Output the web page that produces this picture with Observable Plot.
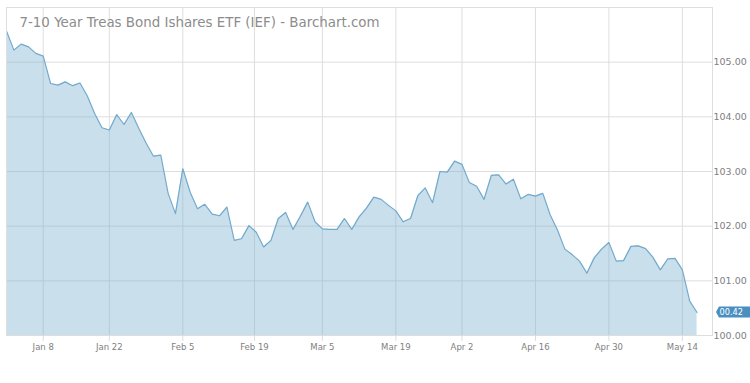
<!DOCTYPE html>
<html><head><meta charset="utf-8">
<script src="https://cdn.jsdelivr.net/npm/d3@7"></script>
<script src="https://cdn.jsdelivr.net/npm/@observablehq/plot@0.6"></script>
<style>html,body{margin:0;padding:0;background:#fff;} #chart svg{display:block;}</style>
</head><body><div id="chart"></div>
<script>
const chartTitle = "7-10 Year Treas Bond Ishares ETF (IEF) - Barchart.com";
const firstDay = "2017-12-29";
const holidays = ["2018-01-01", "2018-01-15", "2018-02-19", "2018-03-30"];
const closes = [
  105.57, 105.22, 105.33, 105.28, 105.16, 105.11, 104.61, 104.58, 104.64, 104.57,
  104.62, 104.38, 104.06, 103.80, 103.76, 104.04, 103.86, 104.08, 103.79, 103.52,
  103.28, 103.30, 102.60, 102.23, 103.05, 102.62, 102.32, 102.40, 102.22, 102.19,
  102.35, 101.74, 101.77, 102.01, 101.89, 101.62, 101.74, 102.14, 102.25, 101.94,
  102.18, 102.44, 102.08, 101.95, 101.94, 101.94, 102.14, 101.94, 102.17, 102.33,
  102.53, 102.49, 102.38, 102.28, 102.08, 102.14, 102.56, 102.70, 102.43, 103.00,
  102.99, 103.19, 103.13, 102.80, 102.73, 102.49, 102.93, 102.94, 102.77, 102.86,
  102.50, 102.58, 102.55, 102.60, 102.21, 101.93, 101.58, 101.48, 101.36, 101.14,
  101.42, 101.58, 101.70, 101.36, 101.37, 101.63, 101.64, 101.59, 101.43, 101.20,
  101.40, 101.41, 101.20, 100.63, 100.42
];
const tickDates = ["2018-01-08", "2018-01-22", "2018-02-05", "2018-02-19", "2018-03-05",
                   "2018-03-19", "2018-04-02", "2018-04-16", "2018-04-30", "2018-05-14"];
const tickLabels = ["Jan 8", "Jan 22", "Feb 5", "Feb 19", "Mar 5",
                    "Mar 19", "Apr 2", "Apr 16", "Apr 30", "May 14"];
const yTicks = [100, 101, 102, 103, 104, 105];

// trading days (weekends and market holidays skipped)
const parse = d3.utcParse("%Y-%m-%d");
const fmt = d3.utcFormat("%Y-%m-%d");
const hol = new Set(holidays);
const days = [];
let cur = parse(firstDay);
while (days.length < closes.length) {
  const wd = cur.getUTCDay();
  if (wd !== 0 && wd !== 6 && !hol.has(fmt(cur))) days.push(cur);
  cur = d3.utcDay.offset(cur, 1);
}
const data = closes.map((v, i) => ({i, date: days[i], close: v}));
function dayIndex(s) {
  const t = parse(s);
  const j = d3.bisector(e => e.date).left(data, t);
  if (j < data.length && +data[j].date === +t) return j;
  const a = data[j - 1], b = data[j];
  return j - 1 + (t - a.date) / (b.date - a.date);
}
const tickPos = tickDates.map(dayIndex);
const labelOf = new Map(tickPos.map((p, k) => [p, tickLabels[k]]));
const last = data[data.length - 1];

const grid = "#dedede";
const chart = Plot.plot({
  width: 750, height: 383,
  marginTop: 7, marginBottom: 48, marginLeft: 6, marginRight: 38,
  style: {fontFamily: "DejaVu Sans", background: "#fff"},
  x: {type: "linear", domain: [0, data.length - 1 + 2.1], axis: null, label: null},
  y: {domain: [100, 106], axis: null, label: null},
  marks: [
    Plot.ruleY(yTicks, {stroke: grid}),
    Plot.ruleX(tickPos, {stroke: grid}),
    Plot.areaY(data, {x: "i", y1: 100, y2: "close", fill: "#78afcd", fillOpacity: 0.4}),
    Plot.lineY(data, {x: "i", y: "close", stroke: "#72a9cc", strokeWidth: 1.2}),
    Plot.frame({stroke: grid}),
    Plot.axisX(tickPos, {tickSize: 6, tickPadding: 2, stroke: grid, fill: "#808080", fontSize: 8.5,
                         label: null, tickFormat: p => labelOf.get(p)}),
    Plot.axisY(yTicks, {anchor: "right", tickSize: 0, tickPadding: 1, fill: "#808080", fontSize: 9.5,
                        label: null, tickFormat: d3.format(".2f")}),
    Plot.text([chartTitle], {text: d => d, frameAnchor: "top-left", dx: 13, dy: 10,
                             fontSize: 13.4, fill: "#8c8c8c", lineAnchor: "top"})
  ]
});
document.getElementById("chart").appendChild(chart);

// last-value tag in the right margin
const ys = chart.scale("y"), xs = chart.scale("x");
const ty = ys.apply(last.close);
const tx = xs.range[1] + 4;
const svg = d3.select(chart);
svg.append("defs").append("clipPath").attr("id", "tagclip")
  .append("rect").attr("x", tx + 3).attr("y", ty - 8).attr("width", 60).attr("height", 16);
svg.append("path")
  .attr("d", `M${tx},${ty} L${tx + 3},${ty - 5.5} L${tx + 50},${ty - 5.5} L${tx + 50},${ty + 5.5} L${tx + 3},${ty + 5.5} Z`)
  .attr("fill", "#4b8fc1");
svg.append("text")
  .attr("x", 743).attr("y", ty).attr("dy", "0.35em")
  .attr("text-anchor", "end").attr("clip-path", "url(#tagclip)")
  .attr("fill", "#fff").attr("font-size", 8.2).attr("font-family", "DejaVu Sans")
  .text(d3.format(".2f")(last.close));
</script>
</body></html>
